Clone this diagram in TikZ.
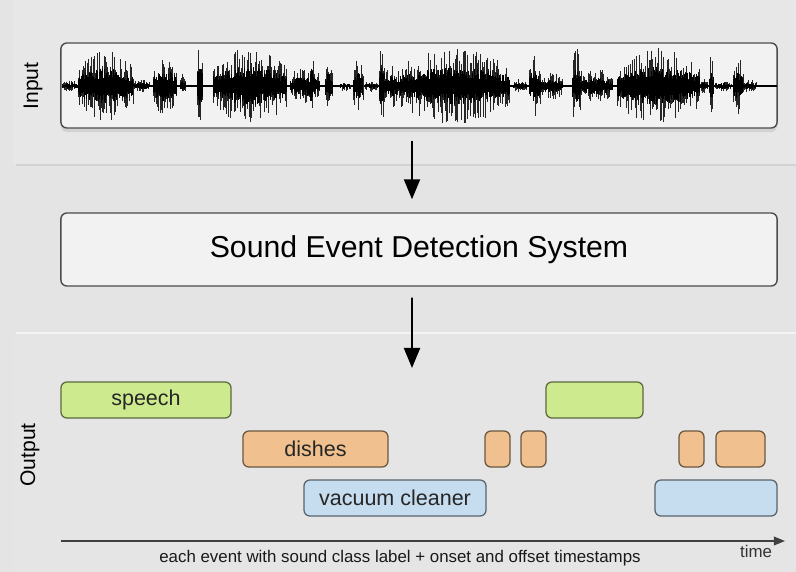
\documentclass[tikz,border=0pt]{standalone}
\usepackage{fontspec}
\setmainfont{Liberation Sans}
\usetikzlibrary{arrows.meta, shadows}

\definecolor{bgcol}{HTML}{E4E4E4}
\definecolor{bandcol}{HTML}{E7E7E7}
\definecolor{linecol}{HTML}{D2D2D2}
\definecolor{boxcol}{HTML}{F2F2F2}
\definecolor{speechcol}{HTML}{CDEB8E}
\definecolor{dishcol}{HTML}{F0C18E}
\definecolor{vaccol}{HTML}{C6DCEF}

\begin{document}
\begin{tikzpicture}[x=0.025cm, y=-0.025cm,
  panel/.style={draw=black!70, line width=1pt, fill=boxcol, rounded corners=0.15cm, inner sep=0pt, minimum width=17.9cm},
  flow/.style={line width=1.4pt, -{Triangle[length=0.5cm, width=0.4cm]}},
  event/.style={draw=#1!45!black, fill=#1, line width=0.9pt, rounded corners=0.15cm, inner sep=0pt, minimum height=0.9cm, text=black!85, font=\fontsize{15.3}{18}\selectfont},
  side/.style={rotate=90, font=\fontsize{15}{18}\selectfont}]
\useasboundingbox (0,0) rectangle (796,572);
\fill[bgcol] (0,0) rectangle (796,572);
\fill[bandcol] (13,0) rectangle (796,165);
\draw[linecol, line width=0.8pt] (16,165) -- (796,165);
\fill[bgcol!60!bandcol] (13,333) rectangle (796,572);
\draw[white!60!bgcol, line width=0.8pt] (16,333) -- (796,333);

\node[side] (inlabel) at (33,86) {Input};
\node[side] (outlabel) at (30,455) {Output};

\node[panel, minimum height=2.125cm, drop shadow={shadow xshift=0pt, shadow yshift=-0.1cm, opacity=0.2}] (input) at (419,85.5) {};
\node[panel, minimum height=1.825cm, font=\fontsize{21.5}{25}\selectfont] (sed) at (419,249.5) {Sound Event Detection System};

% waveform
\pgfmathsetseed{7}
\draw[line width=1pt] (62,86) -- (777,86);
\foreach \a/\b/\h in {62/78/6, 78/133/36, 133/150/7, 153/177/32, 180/186/12, 197/203/40,
    213/287/38, 290/320/20, 310/314/36, 325/333/26, 340/350/6, 353/363/27, 365/378/6,
    379/385/40, 384/400/22, 400/510/38, 513/527/7, 529/541/32, 540/563/14, 572/581/38,
    580/613/17, 617/700/38, 700/708/8, 709/714/30, 715/732/6, 733/743/29, 743/757/7}{
  \pgfmathsetmacro{\an}{\a+0.9}
  \foreach \x in {\a,\an,...,\b}{
    \pgfmathsetmacro{\env}{\h*(0.55+0.45*sin((\x-\a)/(\b-\a)*180))}
    \draw[line width=0.45pt, black!85] (\x,{86-\env*rnd}) -- (\x,{86+\env*rnd});
    \draw[line width=0.6pt] (\x,{86-\env*(0.2+0.3*rnd)}) -- (\x,{86+\env*(0.2+0.3*rnd)});
  }
}

\draw[flow, shorten <=0.3cm, shorten >=0.325cm] ([xshift=-0.175cm]input.south) -- ([xshift=-0.175cm]sed.north);
\coordinate (outtop) at (412,368);
\draw[flow, shorten <=0.275cm] ([xshift=-0.175cm]sed.south) -- (outtop);

\node[event=speechcol, minimum width=4.25cm] (speech) at (146,400) {speech};
\node[event=speechcol, minimum width=2.425cm] (speechb) at (594.5,400) {};
\node[event=dishcol, minimum width=3.625cm] (dishes) at (315.5,449) {dishes};
\node[event=dishcol, minimum width=0.625cm] (dishesb) at (497.5,449) {};
\node[event=dishcol, minimum width=0.625cm] (dishesc) at (533.5,449) {};
\node[event=dishcol, minimum width=0.625cm] (dishesd) at (691.5,449) {};
\node[event=dishcol, minimum width=1.225cm] (dishese) at (740.5,449) {};
\node[event=vaccol, minimum width=4.55cm] (vacuum) at (395,498) {vacuum cleaner};
\node[event=vaccol, minimum width=3.05cm] (vacuumb) at (716,498) {};

\coordinate (t0) at (61,541);
\coordinate (t1) at (785,541);
\draw[line width=1pt, black!75, -{Triangle[length=0.28cm, width=0.22cm]}] (t0) -- (t1);
\node[font=\fontsize{12}{14}\selectfont, text=black!80] (time) at (756,551) {time};
\node[font=\fontsize{12}{14}\selectfont, text=black!90] (caption) at (400,558) {each event with sound class label + onset and offset timestamps};
\end{tikzpicture}
\end{document}
